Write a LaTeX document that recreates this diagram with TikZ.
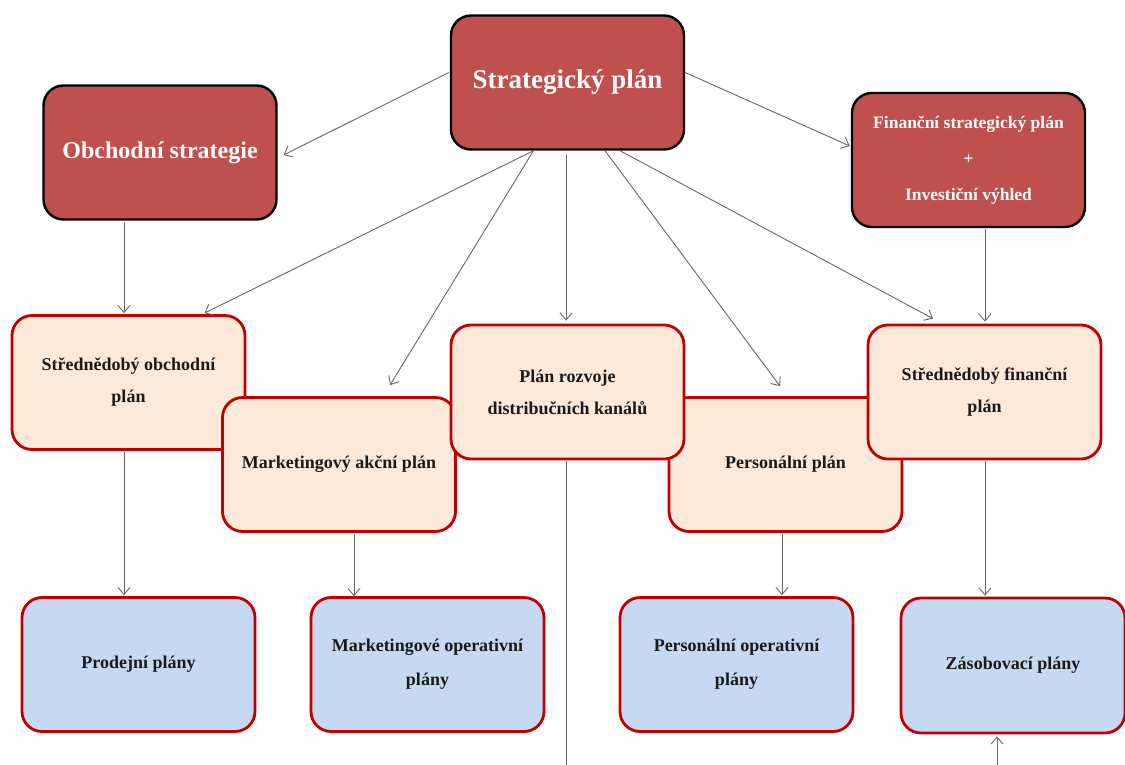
\documentclass[tikz,border=0pt]{standalone}
\usepackage{fontspec}
\setmainfont{Liberation Serif}
\usetikzlibrary{arrows.meta,calc}
\definecolor{darkred}{HTML}{C0504D}
\definecolor{peach}{HTML}{FDE9D9}
\definecolor{paleblue}{HTML}{C6D9F1}
\definecolor{boxred}{HTML}{C00000}
\definecolor{linegray}{HTML}{666666}
\definecolor{boxtext}{HTML}{1A1A1A}
\begin{document}
\begin{tikzpicture}[x=1pt,y=-1pt,
  base/.style={rectangle, rounded corners=20pt, minimum width=233pt, minimum height=134pt, align=center, inner sep=0pt},
  topbox/.style={base, fill=darkred, draw=black, line width=2.4pt, text=white},
  midbox/.style={base, fill=peach, draw=boxred, line width=2.8pt, text=boxtext, font=\bfseries\fontsize{18}{32}\selectfont},
  lowbox/.style={base, fill=paleblue, draw=boxred, line width=2.8pt, text=boxtext, font=\bfseries\fontsize{18}{34}\selectfont},
  conn/.style={draw=linegray, line width=0.9pt, -{Straight Barb[length=7pt,width=12pt,line width=0.9pt]}},
  plainline/.style={draw=linegray, line width=0.9pt}]
\useasboundingbox (0,0) rectangle (1125,764);
\clip (0,0) rectangle (1125,764);

% top level
\node[topbox, font=\bfseries\fontsize{27}{30}\selectfont] (sp) at (567.5,82.5) {Strategický plán};
\node[topbox, font=\bfseries\fontsize{24}{28}\selectfont] (os) at (160,152.5) {Obchodní strategie};
\node[topbox, font=\bfseries\fontsize{17.5}{36}\selectfont] (fin) at (968.5,160) {Finanční strategický plán\\+\\Investiční výhled};

% middle level (draw order matters for overlaps)
\node[midbox] (sob) at (128.5,382.5) {Střednědobý obchodní\\plán};
\node[midbox] (mak) at (339,464.5) {Marketingový akční plán};
\node[midbox] (pp) at (785.5,464.5) {Personální plán};
\node[midbox] (pr) at (567.5,392) {Plán rozvoje\\distribučních kanálů};
\node[midbox] (sfp) at (984.5,392) {Střednědobý finanční\\plán};

% bottom level
\node[lowbox] (prod) at (138.5,664.5) {Prodejní plány};
\node[lowbox] (mop) at (427.5,664.5) {Marketingové operativní\\plány};
\node[lowbox] (pop) at (736.5,664.5) {Personální operativní\\plány};
\node[lowbox, minimum width=224pt, minimum height=135pt] (zp) at (1013,665.5) {Zásobovací plány};

% free ends
\coordinate (outpr) at (566,770);
\coordinate (inzp) at (997,770);

% connectors from the strategic plan
\draw[conn] ($(sp.west)+(-1,-10)$) -- ($(os.east)+(6,2.5)$);
\draw[conn] ($(sp.east)+(0,-10)$) -- ($(fin.west)+(-1,-14)$);
\draw[conn] ($(sp.south)+(-34,0)$) -- ($(sob.north)+(76,-1)$);
\draw[conn] ($(sp.south)+(-34,0)$) -- ($(mak.north)+(51,-11)$);
\draw[conn] ($(sp.south)+(-1.5,4)$) -- ($(pr.north)+(-1.5,-3)$);
\draw[conn] ($(sp.south)+(37.5,0)$) -- ($(pp.north)+(-5.5,-10)$);
\draw[conn] ($(sp.south)+(52.5,0)$) -- ($(sfp.north)+(-51.5,-5)$);

% vertical connectors
\draw[conn] ($(os.south)+(-36,1)$) -- ($(sob.north)+(-4.5,-1)$);
\draw[conn] ($(fin.south)+(16.5,1)$) -- ($(sfp.north)+(0.5,-2)$);
\draw[conn] ($(sob.south)+(-4.5,1)$) -- ($(prod.north)+(-14.5,-1)$);
\draw[conn] ($(mak.south)+(15,1)$) -- ($(mop.north)+(-73.5,0)$);
\draw[plainline] ($(pr.south)+(-1.5,1)$) -- (outpr);
\draw[conn] ($(pp.south)+(-3.5,1)$) -- ($(pop.north)+(45.5,-1)$);
\draw[conn] ($(sfp.south)+(0.5,1)$) -- ($(zp.north)+(-28,-1)$);
\draw[conn] (inzp) -- ($(zp.south)+(-16,2)$);
\end{tikzpicture}
\end{document}
